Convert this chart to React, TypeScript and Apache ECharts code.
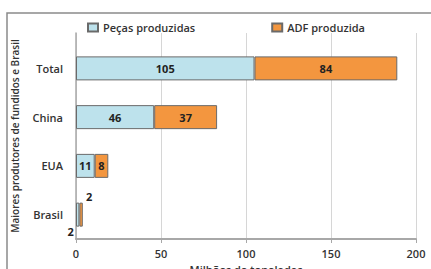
import React, { useEffect, useRef } from "react";
import * as echarts from "echarts";

const categories = ["Total", "China", "EUA", "Brasil"];
const pecas = [105, 46, 11, 2];
const adf = [84, 37, 8, 2];
const xTicks = { min: 0, max: 200, interval: 50 };
const seriesNames = ["Peças produzidas", "ADF produzida"];

const FONT = "'Open Sans', 'Noto Sans', sans-serif";

export default function App() {
  const ref = useRef<HTMLDivElement>(null);
  useEffect(() => {
    if (!ref.current) return;
    const chart = echarts.init(ref.current, undefined, { renderer: "svg" });
    const labelBase = {
      show: true,
      position: "inside",
      color: "#222",
      fontWeight: "bold",
      fontSize: 11,
      fontFamily: FONT,
    };
    const pecasData = pecas.map((v, i) =>
      categories[i] === "Brasil"
        ? { value: v, label: { position: "bottom", offset: [-7, -6] } }
        : v
    );
    const adfData = adf.map((v, i) =>
      categories[i] === "Brasil"
        ? { value: v, label: { position: "top", offset: [8, 4] } }
        : v
    );
    chart.setOption({
      animation: false,
      backgroundColor: "#fff",
      textStyle: { fontFamily: FONT },
      graphic: [
        {
          type: "polyline",
          shape: { points: [[7, 280], [7, 13], [440, 13]] },
          style: { stroke: "#8a8a8a", lineWidth: 1.5, fill: null },
        },
      ],
      legend: {
        data: seriesNames,
        left: 82,
        top: 17,
        itemWidth: 10,
        itemHeight: 8,
        itemGap: 76,
        icon: "rect",
        textStyle: { fontSize: 11, fontWeight: 600, color: "#333", fontFamily: FONT },
      },
      grid: [
        { left: 76, right: 15, top: 33, bottom: 30, outerBoundsMode: "none", containLabel: false },
        { left: 76, right: 15, top: 44, bottom: 30, outerBoundsMode: "none", containLabel: false },
      ],
      xAxis: [
        {
          type: "value",
          gridIndex: 0,
          ...xTicks,
          name: "Milhões de toneladas",
          nameLocation: "middle",
          nameGap: 23,
          nameTextStyle: { fontSize: 11, fontWeight: 600, color: "#333", fontFamily: FONT },
          axisLine: { show: true, lineStyle: { color: "#a8a8a8", width: 2 } },
          axisTick: { show: true, length: 4, lineStyle: { color: "#a8a8a8" } },
          axisLabel: { fontSize: 11, fontWeight: 600, color: "#333", margin: 9, fontFamily: FONT },
          splitLine: { show: true, lineStyle: { color: "#d6d6d6", width: 1 } },
        },
        {
          type: "value",
          gridIndex: 1,
          ...xTicks,
          show: false,
          splitLine: { show: false },
        },
      ],
      yAxis: [
        {
          type: "value",
          gridIndex: 0,
          min: 0,
          max: 1,
          name: "Maiores produtores de fundidos e Brasil",
          nameLocation: "middle",
          nameRotate: 90,
          nameGap: 56,
          nameTextStyle: { fontSize: 10, fontWeight: 600, color: "#333", fontFamily: FONT },
          axisLine: { show: true, lineStyle: { color: "#a8a8a8", width: 1.5 } },
          axisTick: { show: false },
          axisLabel: { show: false },
          splitLine: { show: false },
        },
        {
          type: "category",
          gridIndex: 1,
          data: categories,
          inverse: true,
          axisLine: { show: false },
          axisTick: { show: false },
          axisLabel: { fontSize: 11, fontWeight: 600, color: "#333", margin: 13, fontFamily: FONT },
        },
      ],
      series: [
        {
          name: seriesNames[0],
          type: "bar",
          stack: "total",
          xAxisIndex: 1,
          yAxisIndex: 1,
          barWidth: 24,
          data: pecasData,
          itemStyle: { color: "#bde2ec", borderColor: "#6a6a6a", borderWidth: 1 },
          label: labelBase,
        },
        {
          name: seriesNames[1],
          type: "bar",
          stack: "total",
          xAxisIndex: 1,
          yAxisIndex: 1,
          barWidth: 24,
          data: adfData,
          itemStyle: { color: "#f3963f", borderColor: "#6a6a6a", borderWidth: 1 },
          label: labelBase,
        },
      ],
    });
    return () => chart.dispose();
  }, []);
  return (
    <div
      ref={ref}
      style={{ position: "fixed", left: 0, top: 0, width: 431, height: 269 }}
    />
  );
}
